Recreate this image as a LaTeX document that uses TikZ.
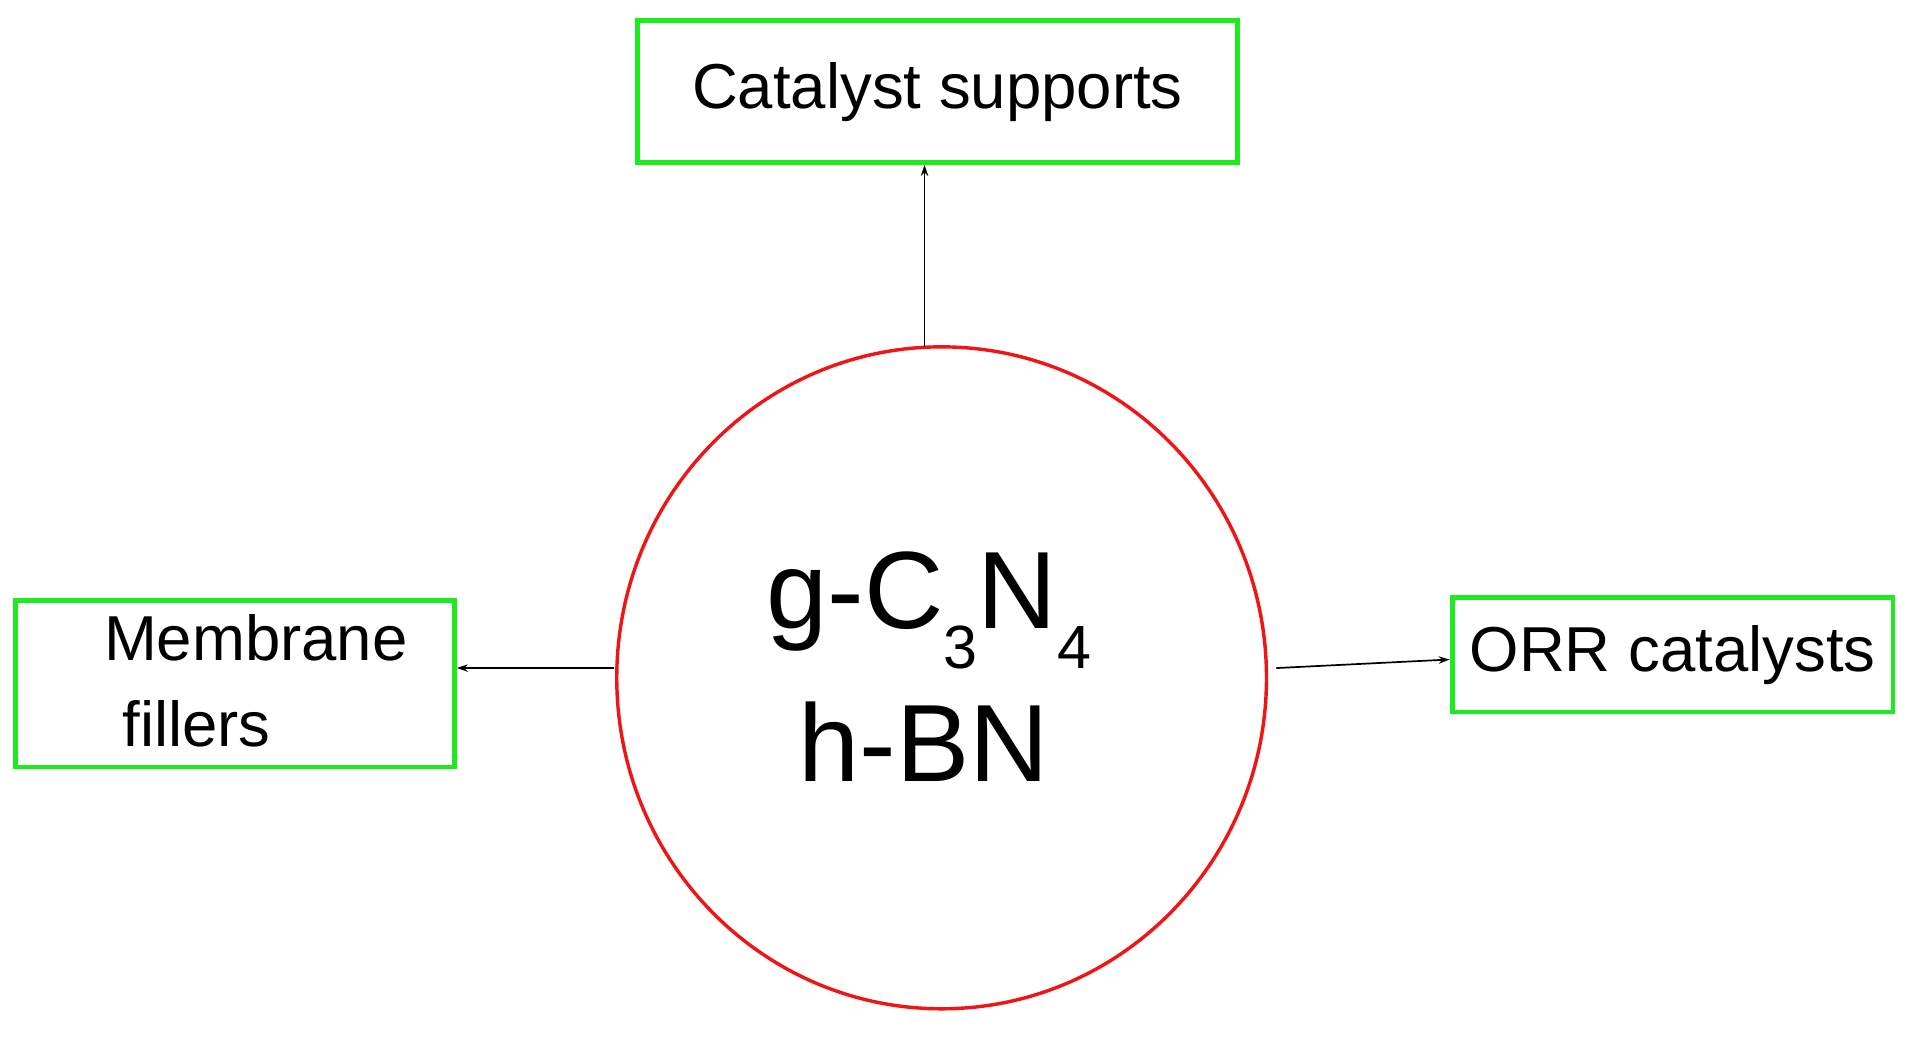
\documentclass[tikz,border=0pt]{standalone}
\usepackage{fontspec}
\setmainfont{Liberation Sans}
\usetikzlibrary{shapes.geometric,arrows.meta}
\definecolor{gbox}{RGB}{30,235,30}
\definecolor{rcirc}{RGB}{240,20,20}
\begin{document}
\begin{tikzpicture}[x=1pt,y=-1pt,
  gbox/.style={draw=gbox,line width=4pt,inner sep=0pt},
  lbl/.style={font=\fontsize{52}{60}\selectfont,inner sep=0pt},
  arr/.style={line width=1.4pt,-{Stealth[length=9pt,width=6pt]}}]
\useasboundingbox (0,0) rectangle (1568,857);
\fill[white] (0,0) rectangle (1568,857);
\node[gbox,minimum width=491pt,minimum height=116pt,lbl] (cs) at (767.5,75) {Catalyst supports};
\node[gbox,minimum width=359pt,minimum height=136pt] (mf) at (192.5,560) {};
\node[lbl,anchor=base west] (mf1) at (85,541) {Membrane};
\node[lbl,anchor=base west] (mf2) at (100,611) {fillers};
\node[gbox,minimum width=361pt,minimum height=94pt,lbl] (orr) at (1369.5,536) {ORR catalysts};
\node[draw=rcirc,line width=2.8pt,ellipse,minimum width=532pt,minimum height=542pt,inner sep=0pt] (c) at (771,555) {};
\node[inner sep=0pt,anchor=base,font=\fontsize{90}{100}\selectfont] (t1) at (760.5,515)
  {g-C\raisebox{-32pt}{\fontsize{50}{50}\selectfont 3}N\raisebox{-32pt}{\fontsize{50}{50}\selectfont 4}};
\node[inner sep=0pt,anchor=base,font=\fontsize{90}{100}\selectfont] (t2) at (756.5,640) {h-BN};
\coordinate (a1) at (757,284);
\coordinate (a2) at (503,547);
\coordinate (a3) at (1045,547);
\draw[arr] (a1) -- (a1 |- cs.south);
\draw[arr] (a2) -- (mf.east |- a2);
\draw[arr] (a3) -- ([yshift=-4pt]orr.west);
\end{tikzpicture}
\end{document}
